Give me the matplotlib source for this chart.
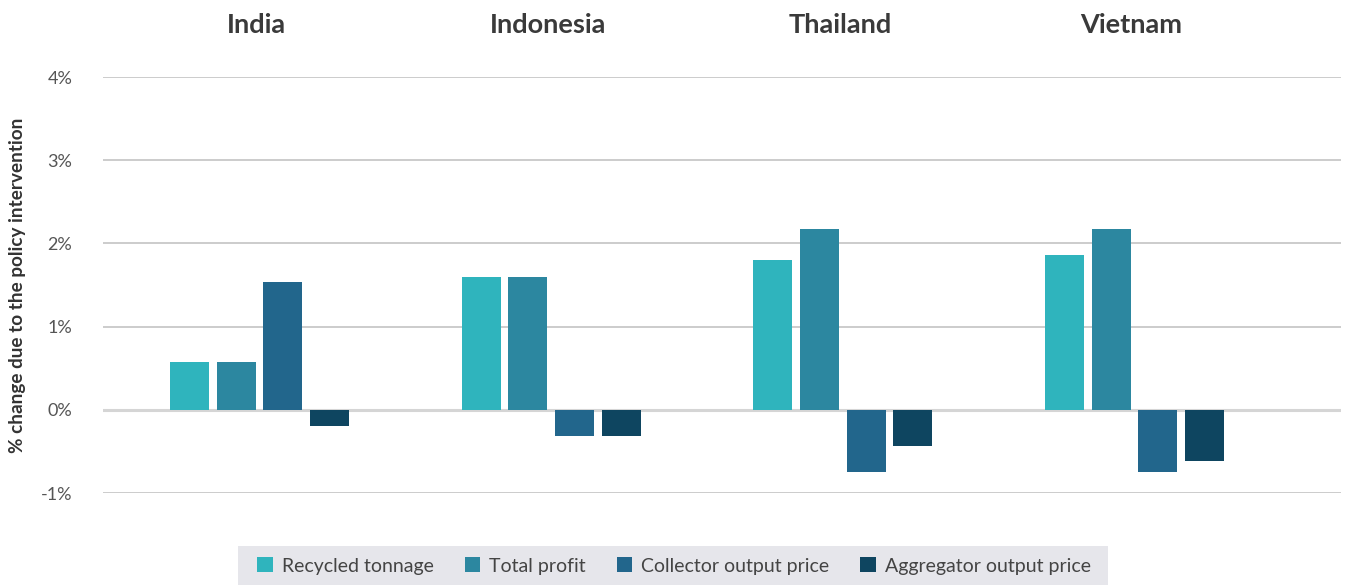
import matplotlib
matplotlib.use("Agg")
import matplotlib.pyplot as plt
from matplotlib.patches import Rectangle
import numpy as np

countries = ["India", "Indonesia", "Thailand", "Vietnam"]
series_names = ["Recycled tonnage", "Total profit", "Collector output price", "Aggregator output price"]
recycled_tonnage = [0.57, 1.60, 1.80, 1.86]
total_profit = [0.57, 1.60, 2.17, 2.17]
collector_price = [1.54, -0.32, -0.75, -0.75]
aggregator_price = [-0.20, -0.32, -0.44, -0.61]
y_ticks = [-1, 0, 1, 2, 3, 4]
y_tick_labels = ["-1%", "0%", "1%", "2%", "3%", "4%"]
colors = ["#2FB4BD", "#2C87A0", "#22668C", "#0E4560"]

plt.rcParams['font.family'] = ['Lato', 'DejaVu Sans']

W, H = 1348, 585
fig = plt.figure(figsize=(W / 100, H / 100), dpi=100)
ax_left, ax_right = 103, 1341
ax_top, ax_bot = 77, 493
ax = fig.add_axes([ax_left / W, (H - ax_bot) / H, (ax_right - ax_left) / W, (ax_bot - ax_top) / H])

series = [recycled_tonnage, total_profit, collector_price, aggregator_price]
x = np.arange(len(countries))
pitch = 0.160
width = 0.134
handles = []
for i, (name, vals, c) in enumerate(zip(series_names, series, colors)):
    b = ax.bar(x + (i - 1.5) * pitch, vals, width, color=c, label=name, zorder=3)
    handles.append(b)

ax.set_xlim(-0.537, 3.708)
ax.set_ylim(-1, 4)
ax.set_yticks(y_ticks)
ax.set_yticklabels(y_tick_labels, fontsize=13, color="#555555")
ax.tick_params(axis='y', length=0, pad=22)
ax.set_xticks([])
for s in ax.spines.values():
    s.set_visible(False)
ax.grid(axis='y', color="#c8c8c8", linewidth=1.3, zorder=0)
ax.axhline(0, color="#d5d5d5", linewidth=2.2, zorder=2)

ax.set_ylabel("% change due to the policy intervention", fontsize=13.6, fontweight='bold',
              color="#333333", labelpad=11)

for xi, name in zip(x, countries):
    ax.text(xi - 0.01, 4.63, name, ha='center', va='center', fontsize=19.5, fontweight='bold',
            color="#3a3a3a", clip_on=False)

# legend background box
fig.patches.append(Rectangle((238 / W, 0), (1108 - 238) / W, (H - 546) / H,
                             transform=fig.transFigure, facecolor="#e6e6eb",
                             edgecolor="none", zorder=0))

leg = fig.legend(handles=handles, labels=series_names, loc='center',
                 bbox_to_anchor=(0.5, 1 - 566 / H), ncol=4, fontsize=14,
                 frameon=False, borderaxespad=0, borderpad=0,
                 handlelength=0.8, handleheight=0.8, handletextpad=0.45,
                 columnspacing=1.6, labelcolor="#444444")

fig.savefig("out.png", dpi=100)
